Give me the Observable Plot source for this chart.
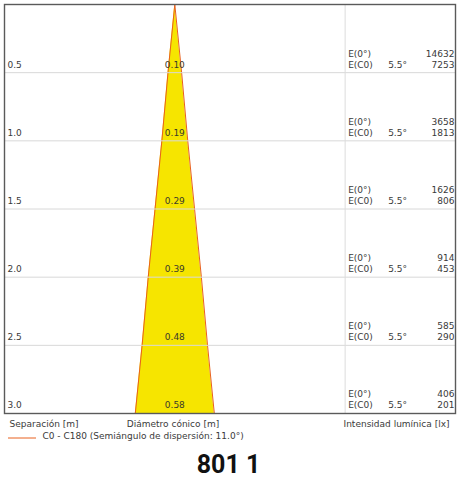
<!DOCTYPE html>
<html>
<head>
<meta charset="utf-8">
<script src="https://cdn.jsdelivr.net/npm/d3@7"></script>
<script src="https://cdn.jsdelivr.net/npm/@observablehq/plot@0.6"></script>
<style>
  html, body { margin: 0; padding: 0; background: #fff; }
  #chart { width: 457px; }
  #title { width: 457px; text-align: center; font-family: Roboto, "Liberation Sans", sans-serif; font-weight: 700; font-size: 25px; color: #111; line-height: 30px; margin-top: 2px; }
</style>
</head>
<body>
<div id="chart"></div>
<div id="title">801 1</div>
<script>
// Data
const distances = [0.5, 1.0, 1.5, 2.0, 2.5, 3.0];
const distanceLabels = ["0.5", "1.0", "1.5", "2.0", "2.5", "3.0"];
const diameters = [0.10, 0.19, 0.29, 0.39, 0.48, 0.58];
const diameterLabels = ["0.10", "0.19", "0.29", "0.39", "0.48", "0.58"];
const eCenter = [14632, 3658, 1626, 914, 585, 406];
const eC0 = [7253, 1813, 806, 453, 290, 201];
const halfAngleLabel = "5.5°";
const legendLabel = "C0 - C180 (Semiángulo de dispersión: 11.0°)";
const axisLabels = ["Separación [m]", "Diámetro cónico [m]", "Intensidad lumínica [lx]"];

const rows = distances.map((d, i) => ({
  d, dLabel: distanceLabels[i], dia: diameters[i], diaLabel: diameterLabels[i],
  e0: String(eCenter[i]), ec0: String(eC0[i])
}));
const cone = [{d: 0, dia: 0}, ...rows.map(r => ({d: r.d, dia: r.dia}))];

const font = "'DejaVu Sans', Verdana, sans-serif";
const txt = "#3a3a3a";
const W = 457, H = 448;
const xMin = -1.25, xMid = 1.25, xMax = 2.06;

const chart = Plot.plot({
  width: W, height: H,
  marginLeft: 4, marginRight: 2, marginTop: 4, marginBottom: 35,
  style: {fontFamily: font, fontSize: "9px", color: txt, background: "#fff"},
  x: {domain: [xMin, xMax], axis: null},
  y: {domain: [0, 3], reverse: true, axis: null},
  marks: [
    // cone
    Plot.areaX(cone, {y: "d", x1: r => -r.dia / 2, x2: r => r.dia / 2, fill: "#f6e500"}),
    Plot.lineX(cone, {y: "d", x: r => -r.dia / 2, stroke: "#e8601e", strokeWidth: 1}),
    Plot.lineX(cone, {y: "d", x: r => r.dia / 2, stroke: "#e8601e", strokeWidth: 1}),
    // gridlines
    Plot.ruleY(distances.slice(0, -1), {stroke: "#d8d8d8", strokeWidth: 1}),
    // divider
    Plot.ruleX([xMid], {stroke: "#dcdcdc", strokeWidth: 1}),
    // frame
    Plot.frame({stroke: "#5a5a5a", strokeWidth: 1.4}),
    // distance labels
    Plot.text(rows, {x: () => xMin, y: "d", text: "dLabel", dx: 3, dy: -8, textAnchor: "start", fill: txt}),
    // diameter labels
    Plot.text(rows, {x: () => 0, y: "d", text: "diaLabel", dy: -8, textAnchor: "middle", fill: "#3a3a2a"}),
    // illuminance table
    Plot.text(rows, {x: () => xMid, y: "d", text: () => "E(0°)", dx: 3, dy: -19, textAnchor: "start", fill: txt}),
    Plot.text(rows, {x: () => xMid, y: "d", text: () => "E(C0)", dx: 3, dy: -8, textAnchor: "start", fill: txt}),
    Plot.text(rows, {x: () => xMid, y: "d", text: () => halfAngleLabel, dx: 43, dy: -8, textAnchor: "start", fill: txt}),
    Plot.text(rows, {x: () => xMax, y: "d", text: "e0", dx: -1, dy: -19, textAnchor: "end", fill: txt}),
    Plot.text(rows, {x: () => xMax, y: "d", text: "ec0", dx: -1, dy: -8, textAnchor: "end", fill: txt}),
    // bottom labels
    Plot.text([axisLabels[0]], {frameAnchor: "bottom-left", text: d => d, dx: 5, dy: 13, textAnchor: "start", fill: txt}),
    Plot.text([axisLabels[1]], {x: () => 0, frameAnchor: "bottom", text: d => d, dx: -48, dy: 13, textAnchor: "start", fill: txt}),
    Plot.text([axisLabels[2]], {frameAnchor: "bottom-right", text: d => d, dx: -6, dy: 13, textAnchor: "end", fill: txt}),
    // legend
    Plot.text([legendLabel], {frameAnchor: "bottom-left", text: d => d, dx: 38, dy: 25, textAnchor: "start", fill: txt})
  ]
});
document.getElementById("chart").appendChild(chart);

// legend swatch line drawn next to legend text
const svg = d3.select(chart);
const bottom = H - 35;
svg.append("line")
  .attr("x1", 8).attr("x2", 36)
  .attr("y1", bottom + 25).attr("y2", bottom + 25)
  .attr("stroke", "#e8601e").attr("stroke-width", 1);
</script>
</body>
</html>
